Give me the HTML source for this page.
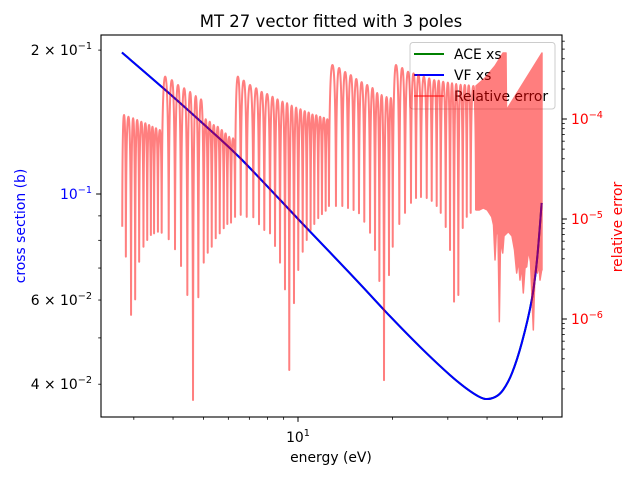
<!DOCTYPE html>
<html><head><meta charset="utf-8">
<style>
html,body{margin:0;padding:0;background:#fff;}
svg{display:block;font-family:"DejaVu Sans","Liberation Sans",sans-serif;}
</style></head>
<body>
<svg id="chart" width="640" height="480" viewBox="0 0 640 480" xmlns="http://www.w3.org/2000/svg">
<rect x="0" y="0" width="640" height="480" fill="#fff"/>
<text x="331" y="27" font-size="16.5" text-anchor="middle" fill="#000">MT 27 vector fitted with 3 poles</text>
<g id="xsLayer"></g>
<g id="legend">
  <rect x="410" y="42.5" width="145" height="66.5" rx="3" fill="#fff" fill-opacity="0.8" stroke="#ccc" stroke-width="1"/>
  <line x1="414" y1="54" x2="444" y2="54" stroke="#008000" stroke-width="2"/>
  <text x="454" y="59" font-size="13.9">ACE xs</text>
  <line x1="414" y1="75" x2="444" y2="75" stroke="#0000ff" stroke-width="2"/>
  <text x="454" y="80" font-size="13.9">VF xs</text>
  <line x1="414" y1="96" x2="444" y2="96" stroke="#ff0000" stroke-opacity="0.5" stroke-width="2"/>
  <text x="454" y="101" font-size="13.9">Relative error</text>
</g>
<g id="errLayer" opacity="0.5"></g>
<g id="axesLayer"></g>
<rect x="101" y="35" width="461" height="382" fill="none" stroke="#000" stroke-width="1.1"/>
<text x="331" y="462" font-size="13.9" text-anchor="middle">energy (eV)</text>
<text transform="translate(25,226) rotate(-90)" font-size="13.9" text-anchor="middle" fill="#0000ff">cross section (b)</text>
<text transform="translate(622,227) rotate(-90)" font-size="13.9" text-anchor="middle" fill="#ff0000">relative error</text>
</svg>
<script>
// ---- data ----
const xsE   = [2.75,3.715,4.874,6.536,10,12.64,15.76,19.63,24.46,30.49,35.3,39.12,42.41,44.98,48.03,51.6,55.5,57.7,59.7];
const xsVal = [0.1977,0.1667,0.1422,0.119,0.0887,0.0755,0.0648,0.0555,0.0479,0.0418,0.0387,0.0373,0.0376,0.0389,0.0422,0.0488,0.06,0.0728,0.0958];
const troughE = [2.756,2.83,2.94,3.03,3.12,3.22,3.31,3.40,3.48,3.58,3.68,
 3.875,4.058,4.241,4.442,4.631,4.815,5.009,5.158,5.312,5.470,5.633,5.801,5.956,6.120,6.303,
 6.57,6.866,7.206,7.514,7.81,8.145,8.45,8.765,9.09,9.38,9.71,10.02,10.35,10.66,10.97,11.27,11.60,11.92,12.25,12.55,
 13.21,13.84,14.43,15.03,15.64,16.26,16.96,17.59,18.16,18.79,19.49,20.03,
 21.02,21.92,22.9,23.76,24.64,25.70,26.66,27.65,28.48,29.54,30.49,31.40,32.41,33.47,34.47,35.48,36.89];
const troughErr = [8.37e-6,4.20e-6,1.10e-6,1.57e-6,3.74e-6,5.28e-6,6.17e-6,6.92e-6,7.19e-6,7.46e-6,7.29e-6,
 6.27e-6,4.98e-6,3.39e-6,1.74e-6,1.55e-7,1.65e-6,3.66e-6,4.60e-6,5.28e-6,6.41e-6,7.19e-6,8.07e-6,8.91e-6,9.19e-6,1.05e-5,
 1.10e-5,1.05e-5,1.04e-5,8.85e-6,7.76e-6,7.19e-6,5.37e-6,3.66e-6,1.98e-6,3.09e-7,1.44e-6,3.09e-6,4.71e-6,6.17e-6,7.76e-6,8.91e-6,1.02e-5,1.12e-5,1.21e-5,1.35e-5,
 1.35e-5,1.35e-5,1.29e-5,1.23e-5,1.14e-5,9.40e-6,7.29e-6,4.90e-6,2.40e-6,2.45e-7,2.75e-6,5.28e-6,
 8.91e-6,1.15e-5,1.45e-5,1.62e-5,1.66e-5,1.62e-5,1.52e-5,1.35e-5,1.15e-5,8.32e-6,4.90e-6,1.49e-6,1.74e-6,8.13e-6,1.05e-5,1.15e-5,1.23e-5];
const peakErr = [1.096e-4,1.054e-4,1.016e-4,9.77e-5,9.40e-5,9.06e-5,8.71e-5,8.37e-5,8.07e-5,7.76e-5,
 2.65e-4,2.45e-4,2.19e-4,2.03e-4,1.87e-4,1.70e-4,1.57e-4,9.93e-5,9.40e-5,8.71e-5,8.37e-5,7.76e-5,7.19e-5,6.65e-5,6.41e-5,
 2.65e-4,2.42e-4,2.19e-4,2.03e-4,1.87e-4,1.78e-4,1.67e-4,1.57e-4,1.49e-4,1.44e-4,1.36e-4,1.30e-4,1.25e-4,1.20e-4,1.16e-4,1.11e-4,1.09e-4,1.054e-4,1.03e-4,9.93e-5,
 3.47e-4,3.24e-4,2.95e-4,2.75e-4,2.51e-4,2.34e-4,2.19e-4,2.04e-4,1.82e-4,1.74e-4,1.66e-4,1.62e-4,
 3.47e-4,3.24e-4,2.97e-4,2.86e-4,2.75e-4,2.65e-4,2.55e-4,2.45e-4,2.42e-4,2.36e-4,2.31e-4,2.28e-4,2.24e-4,2.20e-4,2.19e-4,2.17e-4,2.14e-4];
const denseTopE   = [36.89,39.4,42.41,44.98,45.97,46.13,59.84];
const denseTopErr = [2.14e-4,2.57e-4,3.39e-4,4.57e-4,4.57e-4,1.23e-4,4.57e-4];
const denseBotE   = [36.89,37.79,38.91,40.07,41.39,41.94,42.41,42.88,43.35,43.77,44.16,44.87,45.29,46.74,48.03,48.92,49.71,50.37,50.93,51.5,52.18,52.84,53.5,54.22,55.01,56.16,56.87,57.83,58.55,58.98,59.7,59.84];
const denseBotErr = [1.23e-5,1.23e-5,1.29e-5,1.23e-5,1.05e-5,8.71e-6,3.89e-6,8.13e-6,6.92e-6,9.4e-7,6.17e-6,4.57e-6,6.76e-6,7.46e-6,6.76e-6,4.90e-6,2.88e-6,3.89e-6,2.45e-6,3.47e-6,1.82e-6,3.24e-6,3.33e-6,4.90e-6,3.72e-6,7.76e-7,3.09e-6,2.88e-6,3.47e-6,2.45e-6,3.09e-6,3.09e-6];
const xMinorTicks = [3,4,5,6,7,8,9,20,30,40,50,60];
const xMajorTicks = [10];
const leftMinorTicks = [0.04,0.05,0.06,0.07,0.08,0.09,0.2];
const leftLabeled = [0.2,0.1,0.06,0.04];
const leftLabelMant = ["2","","6","4"];
const leftLabelExp = ["−1","−1","−2","−2"];
const rightMajor = [1e-4,1e-5,1e-6];
const rightExp = ["−4","−5","−6"];

// ---- axes ----
const L=101,R=562,T=35,B=417;
const xS = E => 298 + 314*Math.log10(E/10);
const yL = v => 194 - 478*Math.log10(v/0.1);
const yR = e => 119 - 100*Math.log10(e/1e-4);
const NS="http://www.w3.org/2000/svg";
function mk(tag, attrs, parent){const el=document.createElementNS(NS,tag);for(const k in attrs)el.setAttribute(k,attrs[k]);parent.appendChild(el);return el;}
const xsLayer=document.getElementById('xsLayer');
const errLayer=document.getElementById('errLayer');
const axesLayer=document.getElementById('axesLayer');

// smooth path (Catmull-Rom)
const P = xsE.map((E,i)=>[xS(E),yL(xsVal[i])]);
let sd='M'+P[0][0].toFixed(2)+','+P[0][1].toFixed(2);
for(let i=0;i<P.length-1;i++){
  const p0=P[Math.max(0,i-1)],p1=P[i],p2=P[i+1],p3=P[Math.min(P.length-1,i+2)];
  const c1=[p1[0]+(p2[0]-p0[0])/6,p1[1]+(p2[1]-p0[1])/6];
  const c2=[p2[0]-(p3[0]-p1[0])/6,p2[1]-(p3[1]-p1[1])/6];
  sd+=' C'+c1[0].toFixed(2)+','+c1[1].toFixed(2)+' '+c2[0].toFixed(2)+','+c2[1].toFixed(2)+' '+p2[0].toFixed(2)+','+p2[1].toFixed(2);
}
const ace = mk('path',{d:sd,fill:'none',stroke:'#008000','stroke-width':2},xsLayer);


const vf = mk('path',{d:sd,fill:'none',stroke:'#0000ff','stroke-width':2,'stroke-linejoin':'round'},xsLayer);



// relative error: arcs between troughs
let d='M'+xS(troughE[0]).toFixed(2)+','+yR(troughErr[0]).toFixed(2);
for(let i=0;i<peakErr.length;i++){
  const x0=xS(troughE[i]),y0=yR(troughErr[i]),x1=xS(troughE[i+1]),y1=yR(troughErr[i+1]),p=yR(peakErr[i]);
  const w=x1-x0,xm=(x0+x1)/2;
  d+=' C'+(x0+0.04*w).toFixed(2)+','+(p+0.18*(y0-p)).toFixed(2)+' '+(xm-0.24*w).toFixed(2)+','+p.toFixed(2)+' '+xm.toFixed(2)+','+p.toFixed(2);
  d+=' C'+(xm+0.24*w).toFixed(2)+','+p.toFixed(2)+' '+(x1-0.04*w).toFixed(2)+','+(p+0.18*(y1-p)).toFixed(2)+' '+x1.toFixed(2)+','+y1.toFixed(2);
}
const errPath=mk('path',{d:d,fill:'none',stroke:'#ff0000','stroke-width':2,'stroke-linejoin':'round'},errLayer);


// dense region
let poly=denseTopE.map((E,i)=>xS(E).toFixed(2)+','+yR(denseTopErr[i]).toFixed(2));
for(let i=denseBotE.length-1;i>=0;i--) poly.push(xS(denseBotE[i]).toFixed(2)+','+yR(denseBotErr[i]).toFixed(2));
const dense=mk('polygon',{points:poly.join(' '),fill:'#ff0000',stroke:'#ff0000','stroke-width':1.5,'stroke-linejoin':'round'},errLayer);



// x ticks
xMinorTicks.forEach(v=>{const x=xS(v);if(x<L||x>R)return;
  const t=mk('line',{x1:x,y1:B,x2:x,y2:B+2.8,stroke:'#000','stroke-width':0.8},axesLayer);
  
  });
xMajorTicks.forEach(v=>{const x=xS(v);
  const t=mk('line',{x1:x,y1:B,x2:x,y2:B+4.9,stroke:'#000','stroke-width':1},axesLayer);
  
  
  const tx=mk('text',{x:x,y:442,'font-size':13.9,'text-anchor':'middle'},axesLayer);
  
  
  tx.appendChild(document.createTextNode('10'));
  const s=mk('tspan',{'font-size':9.7,dy:-6},tx);s.textContent='1';});
// left ticks
leftMinorTicks.forEach(v=>{const y=yL(v);
  const t=mk('line',{x1:L,y1:y,x2:L-2.8,y2:y,stroke:'#000','stroke-width':0.8},axesLayer);
  
  });
{const y=yL(0.1);const t=mk('line',{x1:L,y1:y,x2:L-4.9,y2:y,stroke:'#000','stroke-width':1},axesLayer);
  
  }
leftLabeled.forEach((v,i)=>{const y=yL(v);
  const tx=mk('text',{x:92,y:y+5,'font-size':13.9,'text-anchor':'end',fill:(v===0.1?'#0000ff':'#000')},axesLayer);
  
  
  tx.setAttribute('xml:space','preserve');
  tx.appendChild(document.createTextNode((leftLabelMant[i]?leftLabelMant[i]+' × ':'')+'10'));
  const s=mk('tspan',{'font-size':9.7,dy:-6},tx);s.textContent=leftLabelExp[i];});
// right ticks
for(let dec=-7;dec<=-4;dec++){for(let m=2;m<=9;m++){const v=m*Math.pow(10,dec);const y=yR(v);if(y<T||y>B)continue;
  const t=mk('line',{x1:R,y1:y,x2:R+2.8,y2:y,stroke:'#000','stroke-width':0.8},axesLayer);
  
  }}
rightMajor.forEach((v,i)=>{const y=yR(v);
  const t=mk('line',{x1:R,y1:y,x2:R+4.9,y2:y,stroke:'#000','stroke-width':1},axesLayer);
  
  
  const tx=mk('text',{x:571,y:y+5,'font-size':13.9,fill:'#ff0000'},axesLayer);
  
  
  tx.appendChild(document.createTextNode('10'));
  const s=mk('tspan',{'font-size':9.7,dy:-6},tx);s.textContent=rightExp[i];});
</script>
</body></html>
